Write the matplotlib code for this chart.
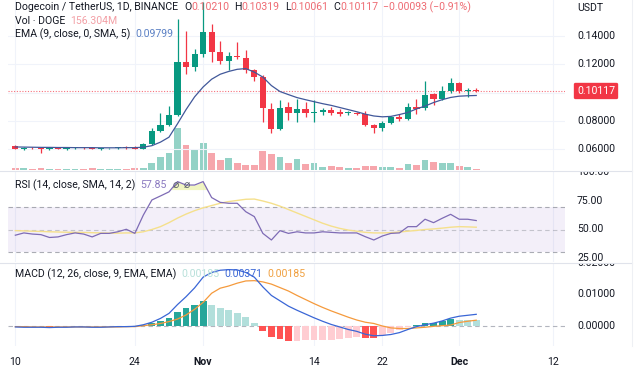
import numpy as np
import pandas as pd
import matplotlib
matplotlib.use('Agg')
import matplotlib.pyplot as plt
import matplotlib.dates as mdates
from matplotlib.lines import Line2D
from matplotlib.transforms import blended_transform_factory

plt.rcParams['font.family'] = ['Roboto', 'DejaVu Sans']

# ---- data (DOGE/USDT daily, Oct 10 - Dec 3 2021) ----
dates = pd.date_range('2021-10-10', periods=55, freq='D')

opens = [0.0625, 0.0602, 0.0610, 0.0606, 0.0603, 0.0610, 0.0604, 0.0608, 0.0612, 0.0607, 0.0602, 0.0606, 0.0609, 0.0612,
         0.0608, 0.0604, 0.0636, 0.0729, 0.0771, 0.0843, 0.1214, 0.1179, 0.1271, 0.1430, 0.1286, 0.1221, 0.1257, 0.1243,
         0.1157, 0.1114, 0.0886, 0.0743, 0.0900, 0.0857, 0.0886, 0.0857, 0.0864, 0.0879, 0.0864, 0.0857, 0.0858, 0.0850,
         0.0771, 0.0750, 0.0786, 0.0829, 0.0814, 0.0900, 0.0893, 0.0993, 0.0957, 0.1014, 0.1071, 0.1014, 0.10210]
highs = [0.0632, 0.0614, 0.0617, 0.0612, 0.0614, 0.0616, 0.0612, 0.0616, 0.0619, 0.0615, 0.0610, 0.0612, 0.0618, 0.0620,
         0.0622, 0.0645, 0.0748, 0.0857, 0.0907, 0.1520, 0.1436, 0.1307, 0.1640, 0.1486, 0.1364, 0.1290, 0.1360, 0.1300,
         0.1165, 0.1125, 0.0929, 0.0950, 0.0936, 0.0957, 0.0936, 0.0950, 0.0890, 0.0900, 0.0885, 0.0870, 0.0865, 0.0870,
         0.0780, 0.0800, 0.0835, 0.0850, 0.0929, 0.0957, 0.1080, 0.1000, 0.1050, 0.1107, 0.1075, 0.1035, 0.10319]
lows = [0.0598, 0.0592, 0.0600, 0.0572, 0.0596, 0.0598, 0.0597, 0.0601, 0.0603, 0.0598, 0.0594, 0.0600, 0.0603, 0.0604,
        0.0600, 0.0600, 0.0630, 0.0722, 0.0765, 0.0838, 0.1130, 0.1150, 0.1250, 0.1220, 0.1200, 0.1160, 0.1240, 0.1140,
        0.1080, 0.0790, 0.0714, 0.0735, 0.0807, 0.0790, 0.0830, 0.0790, 0.0840, 0.0845, 0.0835, 0.0845, 0.0842, 0.0765,
        0.0714, 0.0730, 0.0780, 0.0800, 0.0810, 0.0850, 0.0880, 0.0914, 0.0950, 0.1000, 0.1000, 0.0970, 0.10061]
closes = [0.0602, 0.0610, 0.0606, 0.0603, 0.0610, 0.0604, 0.0608, 0.0612, 0.0607, 0.0602, 0.0606, 0.0609, 0.0612, 0.0608,
          0.0604, 0.0636, 0.0729, 0.0771, 0.0843, 0.1214, 0.1179, 0.1271, 0.1430, 0.1286, 0.1221, 0.1257, 0.1250, 0.1157,
          0.1114, 0.0893, 0.0743, 0.0893, 0.0857, 0.0886, 0.0857, 0.0862, 0.0879, 0.0857, 0.0850, 0.0858, 0.0850, 0.0771,
          0.0750, 0.0786, 0.0829, 0.0814, 0.0900, 0.0886, 0.0986, 0.0957, 0.1014, 0.1071, 0.1014, 0.1021, 0.10117]
volume_m = [450, 400, 350, 500, 300, 350, 300, 350, 300, 400, 300, 250, 300, 350, 500,
            600, 1750, 3250, 4250, 10500, 6250, 5250, 6750, 4250, 2500, 3000, 1750, 1250, 1250, 4750, 4000, 3250,
            1750, 2750, 1500, 1750, 750, 1000, 750, 500, 400, 1000, 1000, 800, 700, 400, 1500, 1250, 2500, 2000,
            1750, 1750, 1000, 750, 156]
ema = [0.0616, 0.0615, 0.0614, 0.0613, 0.0613, 0.0612, 0.0612, 0.0611, 0.0611, 0.0611, 0.0610, 0.0610, 0.0610, 0.0611,
       0.0611, 0.0614, 0.0625, 0.0650, 0.0685, 0.0780, 0.0880, 0.0970, 0.1040, 0.1095, 0.1130, 0.1150, 0.1165, 0.1170,
       0.1145, 0.1110, 0.1050, 0.1008, 0.0986, 0.0965, 0.0950, 0.0936, 0.0922, 0.0910, 0.0895, 0.0880, 0.0865, 0.0848,
       0.0835, 0.0829, 0.0832, 0.0845, 0.0860, 0.0885, 0.0905, 0.0930, 0.0950, 0.0966, 0.0975, 0.0978, 0.09799]

rsi = [45.0, 47.0, 46.0, 45.5, 43.0, 43.5, 45.5, 47.0, 46.0, 43.5, 46.6, 46.6, 48.0, 50.2, 46.6,
       62.7, 75.9, 79.4, 83.0, 92.0, 89.0, 89.0, 92.0, 78.0, 73.8, 73.0, 73.0, 65.6, 61.3, 46.6, 40.8, 49.0,
       46.6, 48.0, 47.0, 47.0, 48.0, 47.5, 47.0, 47.0, 47.0, 43.7, 40.8, 44.3, 46.6, 47.0, 52.5, 52.5, 59.0,
       56.0, 59.8, 63.3, 59.0, 59.0, 57.85]
rsi_ma = [49.0, 48.8, 48.5, 48.3, 48.0, 47.8, 47.6, 47.5, 47.4, 47.2, 47.0, 46.8, 46.8, 47.0, 47.0,
          48.0, 50.0, 52.5, 56.0, 60.0, 63.5, 66.5, 69.0, 71.0, 73.0, 74.5, 75.5, 76.5, 76.7, 75.0, 73.0, 70.5,
          67.5, 64.5, 61.5, 58.5, 55.5, 53.0, 51.0, 49.5, 48.5, 47.5, 47.0, 47.0, 47.2, 47.8, 48.5, 49.2, 50.0,
          50.5, 51.2, 52.0, 52.5, 52.3, 52.0]

macd = [-0.0003, -0.0004, -0.0004, -0.0004, -0.0005, -0.0004, -0.0004, -0.0003, -0.0003, -0.0004, -0.0004, -0.0003,
        -0.0002, -0.0002, -0.0001, 0.0004, 0.0012, 0.0024, 0.0040, 0.0068, 0.0093, 0.0121, 0.0155, 0.0170, 0.0177,
        0.0179, 0.0178, 0.0170, 0.0155, 0.0124, 0.0097, 0.0080, 0.0063, 0.0050, 0.0038, 0.0026, 0.0015, 0.0005,
        -0.0003, -0.0011, -0.0017, -0.0026, -0.0031, -0.0030, -0.0027, -0.0021, -0.0011, -0.0002, 0.0004, 0.0009,
        0.0016, 0.0025, 0.0031, 0.0034, 0.00371]
signal = [-0.0002, -0.0002, -0.0003, -0.0003, -0.0003, -0.0003, -0.0003, -0.0003, -0.0003, -0.0003, -0.0003, -0.0003,
          -0.0003, -0.0002, -0.0002, 0.0001, 0.0004, 0.0008, 0.0014, 0.0022, 0.0035, 0.0053, 0.0075, 0.0104, 0.0120,
          0.0127, 0.0136, 0.0143, 0.0144, 0.0140, 0.0133, 0.0122, 0.0111, 0.0097, 0.0084, 0.0071, 0.0059, 0.0048,
          0.0038, 0.0028, 0.0019, 0.0012, 0.0008, 0.0000, -0.0006, -0.0008, -0.0008, -0.0006, -0.0004, -0.0001,
          0.0001, 0.0003, 0.0011, 0.0015, 0.00185]
hist = [-0.0001, -0.0002, -0.0001, -0.0001, -0.0002, -0.0001, -0.0001, 0.0000, 0.0000, -0.0001, -0.0001, 0.0000,
        0.0001, 0.0000, 0.0001, 0.0003, 0.0008, 0.0016, 0.0026, 0.0046, 0.0058, 0.0068, 0.0080, 0.0066, 0.0057,
        0.0052, 0.0042, 0.0027, 0.0011, -0.0016, -0.0036, -0.0042, -0.0048, -0.0047, -0.0046, -0.0045, -0.0044,
        -0.0043, -0.0041, -0.0039, -0.0036, -0.0038, -0.0039, -0.0030, -0.0021, -0.0013, -0.0004, 0.0004, 0.0008,
        0.0010, 0.0015, 0.0022, 0.0020, 0.0019, 0.00185]

tick_dates = ['2021-10-10', '2021-10-24', '2021-11-01', '2021-11-14', '2021-11-22', '2021-12-01', '2021-12-12']
tick_labels = ['10', '24', 'Nov', '14', '22', 'Dec', '12']
price_ticks = [0.14, 0.12, 0.10, 0.08, 0.06]
last_price = 0.10117

# ---- colours ----
UP, DOWN = '#089981', '#F23645'
TXT = '#131722'
GRID = '#f0f3fa'
FS = 7.6

W, H = 640, 373
fig = plt.figure(figsize=(W / 100, H / 100), dpi=100)


def px_axes(x0, y0, x1, y1):
    return fig.add_axes([x0 / W, 1 - y1 / H, (x1 - x0) / W, (y1 - y0) / H])


x = mdates.date2num(dates)
o, h, l, c = map(np.array, (opens, highs, lows, closes))
up = c >= o
cols = np.where(up, UP, DOWN)
tx = mdates.date2num(pd.to_datetime(tick_dates))
xlim = (x[0] - 0.86, x[0] + 64.4)

ax1 = px_axes(8, 0, 565, 170)
ax2 = px_axes(8, 171, 565, 262)
ax3 = px_axes(8, 263, 565, 346)
s1 = px_axes(565, 0, 640, 170)
s2 = px_axes(565, 171, 640, 262)
s3 = px_axes(565, 263, 640, 346)

lims = [(0.0453, 0.1655), (21.5, 101.3), (-0.00635, 0.0200)]
for a, s, lim in zip((ax1, ax2, ax3), (s1, s2, s3), lims):
    a.set_xlim(*xlim)
    a.set_ylim(*lim)
    s.set_ylim(*lim)
    s.axis('off')
    for sp in a.spines.values():
        sp.set_visible(False)
    a.tick_params(length=0, labelleft=False, labelbottom=False)
    a.set_yticks([])
    a.set_xticks([])
    for t in tx:
        a.axvline(t, color=GRID, lw=0.8, zorder=0)

# ---- main pane: volume, candles, EMA ----
axv = ax1.twinx()
axv.set_ylim(0, 42500)
axv.axis('off')
axv.bar(x, volume_m, width=0.8, color=np.where(up, '#93d2c6', '#f6a6ac'), zorder=1)
ax1.set_zorder(2)
ax1.patch.set_visible(False)
for p in price_ticks:
    ax1.axhline(p, color=GRID, lw=0.8, zorder=0)
ax1.axhline(last_price, color=DOWN, lw=0.8, ls=(0, (1, 1.5)), alpha=0.7, zorder=1)
ax1.vlines(x, l, h, colors=cols, lw=0.9, zorder=2)
ax1.bar(x, np.maximum(np.abs(c - o), 0.0005), bottom=np.minimum(o, c), width=0.72, color=cols, zorder=3)
ax1.plot(x, ema, color='#41589a', lw=0.9, zorder=4)

# ---- RSI pane ----
ax2.axhspan(30, 70, color='#7e57c2', alpha=0.09, lw=0, zorder=0)
for lev, al in ((70, 0.8), (50, 0.5), (30, 0.8)):
    ax2.axhline(lev, color='#9598a1', lw=0.8, ls=(0, (4, 3)), alpha=al, zorder=1)
rsi_a = np.array(rsi)
ax2.fill_between(x, rsi_a, 85, where=rsi_a > 85, interpolate=True, color='#e9ef9a', alpha=0.6, lw=0, zorder=1)
ax2.plot(x, rsi_ma, color='#f5e08c', lw=1.0, zorder=2)
ax2.plot(x, rsi, color='#7e6bb5', lw=0.9, zorder=3)

# ---- MACD pane ----
hcol = []
for i, v in enumerate(hist):
    prev = hist[i - 1] if i else v
    if v >= 0:
        hcol.append('#26a69a' if v > prev else '#b2dfdb')
    else:
        hcol.append('#ff5252' if v < prev else '#ffcdd2')
ax3.axhline(0, color='#b2b5be', lw=0.8, ls=(0, (4, 3)), zorder=0)
ax3.bar(x, hist, width=0.8, color=hcol, zorder=1)
ax3.plot(x, signal, color='#f59a3c', lw=0.9, zorder=2)
ax3.plot(x, macd, color='#3a66d6', lw=0.9, zorder=3)

ax3.set_xticks(tx)
ax3.set_xticklabels(tick_labels)
ax3.tick_params(labelbottom=True, pad=8, labelsize=FS, labelcolor=TXT)
for lab in ax3.get_xticklabels():
    if lab.get_text() in ('Nov', 'Dec'):
        lab.set_fontweight('bold')

# ---- right price scales (clipped like the screenshot) ----
def scale_label(s, val, txt):
    tr = blended_transform_factory(s.transAxes, s.transData)
    s.text(0.16, val, txt, transform=tr, fontsize=FS, color=TXT, va='center', ha='left', clip_on=True)


for p in (0.14, 0.12, 0.08, 0.06):
    scale_label(s1, p, f'{p:.5f}')
s1.text(0.16, 1 - 8 / 170, 'USDT', transform=s1.transAxes, fontsize=FS, color=TXT, va='center', ha='left')
s1.text(0.16, last_price, f'{last_price:.5f}', transform=blended_transform_factory(s1.transAxes, s1.transData),
        fontsize=FS, color='white', va='center', ha='left',
        bbox=dict(boxstyle='round,pad=0.3,rounding_size=0.15', fc=DOWN, ec='none'))
for r in (100, 75, 50, 25):
    scale_label(s2, r, f'{r:.2f}')
for m in (0.02, 0.01, 0.0):
    scale_label(s3, m, f'{m:.5f}')

# ---- pane separators ----
for yy in (170.5, 262.5):
    fig.add_artist(Line2D([0, 632 / W], [1 - yy / H] * 2, color='#e0e3eb', lw=0.8))
fig.add_artist(Line2D([632 / W] * 2, [1 - 346 / H, 1], color='#eef0f4', lw=0.8))

# ---- legends ----
renderer = fig.canvas.get_renderer()


def legend(ypx, parts):
    xp = 15
    for txt, col, gap in parts:
        t = fig.text(xp / W, 1 - ypx / H, txt, color=col, fontsize=FS, va='center', ha='left')
        xp += t.get_window_extent(renderer).width + gap


RED = '#ee6b73'
legend(7, [('Dogecoin / TetherUS, 1D, BINANCE', TXT, 6), ('O', TXT, 0), ('0.10210', RED, 5),
           ('H', TXT, 0), ('0.10319', RED, 5), ('L', TXT, 0), ('0.10061', RED, 5),
           ('C', TXT, 0), ('0.10117', RED, 5), ('\u22120.00093 (\u22120.91%)', RED, 0)])
legend(20.5, [('Vol \u00b7 DOGE', TXT, 5), ('156.304M', '#f3a0a6', 0)])
legend(34, [('EMA (9, close, 0, SMA, 5)', TXT, 5), ('0.09799', '#5b80c4', 0)])
legend(185, [('RSI (14, close, SMA, 14, 2)', TXT, 5), ('57.85', '#8a79c0', 6),
             ('\u2300', '#555a66', 5), ('\u2300', '#555a66', 0)])
legend(274, [('MACD (12, 26, close, 9, EMA, EMA)', TXT, 5), ('0.00185', '#b8e0da', 5),
             ('0.00371', '#3a66d6', 5), ('0.00185', '#f0a040', 0)])

fig.savefig('out.png', dpi=100, facecolor='white')
